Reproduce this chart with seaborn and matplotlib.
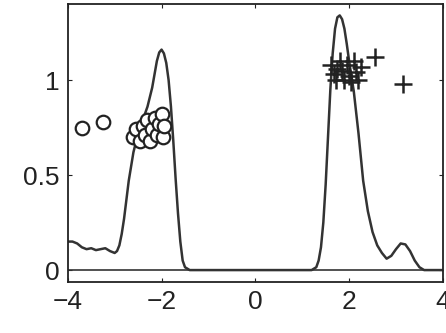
import matplotlib
matplotlib.use("Agg")
import matplotlib.pyplot as plt
import seaborn as sns

# curve
curve_x = [-4.0, -3.9, -3.8, -3.7, -3.6, -3.5, -3.4, -3.3, -3.2, -3.1, -3.0, -2.95, -2.9,
           -2.85, -2.8, -2.7, -2.6, -2.5, -2.4, -2.3, -2.2, -2.15, -2.1, -2.05, -2.0,
           -1.95, -1.9, -1.85, -1.8, -1.75, -1.7, -1.65, -1.6, -1.55, -1.5, -1.4, 0.0,
           1.2, 1.3, 1.35, 1.4, 1.45, 1.5, 1.55, 1.6, 1.65, 1.7, 1.75, 1.8, 1.85, 1.9,
           1.95, 2.0, 2.05, 2.1, 2.2, 2.3, 2.4, 2.5, 2.6, 2.7, 2.8, 2.9, 3.0, 3.1, 3.2,
           3.3, 3.4, 3.5, 3.6, 4.0]
curve_y = [0.15, 0.15, 0.14, 0.12, 0.11, 0.115, 0.105, 0.11, 0.115, 0.10, 0.09, 0.10, 0.13,
           0.19, 0.27, 0.47, 0.62, 0.72, 0.79, 0.86, 0.96, 1.03, 1.10, 1.145, 1.16,
           1.14, 1.09, 1.00, 0.86, 0.68, 0.48, 0.30, 0.15, 0.05, 0.015, 0.0, 0.0,
           0.0, 0.015, 0.05, 0.12, 0.25, 0.45, 0.70, 0.95, 1.14, 1.27, 1.33, 1.34, 1.32,
           1.27, 1.19, 1.10, 1.02, 0.94, 0.72, 0.47, 0.31, 0.20, 0.13, 0.09, 0.06, 0.075,
           0.11, 0.14, 0.135, 0.10, 0.05, 0.015, 0.0, 0.0]

circle_x = [-3.70, -3.25, -2.60, -2.55, -2.45, -2.40, -2.35, -2.30, -2.25, -2.20,
            -2.15, -2.10, -2.05, -2.00, -1.98, -1.95]
circle_y = [0.75, 0.78, 0.70, 0.74, 0.68, 0.76, 0.71, 0.79, 0.68, 0.74,
            0.80, 0.71, 0.77, 0.82, 0.70, 0.76]

plus_x = [1.62, 1.68, 1.72, 1.75, 1.80, 1.85, 1.90, 1.95, 2.00, 2.05, 2.10, 2.15,
          2.20, 2.25, 2.55, 3.15]
plus_y = [1.08, 1.03, 1.00, 1.06, 1.10, 1.05, 1.00, 1.08, 1.02, 0.99, 1.10, 1.04,
          1.00, 1.07, 1.12, 0.98]

xticks = [-4, -2, 0, 2, 4]
xtick_labels = ["\u22124", "\u22122", "0", "2", "4"]
yticks = [0, 0.5, 1]
ytick_labels = ["0", "0.5", "1"]

sns.set_style("ticks")
plt.rcParams["font.family"] = ["Liberation Sans", "DejaVu Sans"]

fig = plt.figure(figsize=(4.46, 3.33), dpi=100)
ax = fig.add_axes([0.152, 0.153, 0.841, 0.835])

ax.axhline(0, color="#333333", lw=1.2, zorder=1)
sns.lineplot(x=curve_x, y=curve_y, ax=ax, color="#333333", lw=1.8, zorder=2)
sns.scatterplot(x=circle_x, y=circle_y, ax=ax, marker="o", s=95,
                facecolor="white", edgecolor="#222222", linewidth=1.6, zorder=3)
sns.scatterplot(x=plus_x, y=plus_y, ax=ax, marker="+", s=170,
                color="#222222", linewidth=1.8, zorder=3)

ax.set_xlim(-4, 4)
ax.set_ylim(-0.063, 1.40)
ax.set_xticks(xticks)
ax.set_xticklabels(xtick_labels)
ax.set_yticks(yticks)
ax.set_yticklabels(ytick_labels)
ax.tick_params(direction="in", length=3, width=0.8, labelsize=19,
               top=True, right=True, pad=6, colors="#222222")
for s in ax.spines.values():
    s.set_visible(True)
    s.set_linewidth(1.3)
    s.set_color("#222222")

fig.savefig("out.png", dpi=100)
